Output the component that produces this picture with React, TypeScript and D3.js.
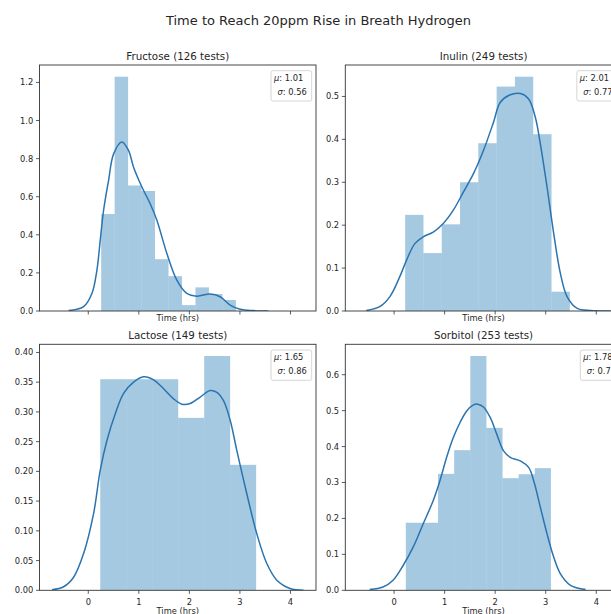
import React from "react";
import * as d3 from "d3";

// ---------- data ----------
const suptitle = "Time to Reach 20ppm Rise in Breath Hydrogen";
const panelNames = ["Fructose", "Inulin", "Lactose", "Sorbitol"];
const testCounts = [126, 249, 149, 253];
const meanLabels = ["1.01", "2.01", "1.65", "1.78"];
const sdLabels = ["0.56", "0.77", "0.86", "0.7"];

const xTicks = [0, 1, 2, 3, 4];
const xDomain: [number, number] = [-0.965, 4.505];

// histogram bins: first edge, width, density heights
const binStarts = [0.255, 0.219, 0.237, 0.232];
const binWidths = [0.2665, 0.362, 0.514, 0.319];
const fructoseHeights = [0.509, 1.23, 0.659, 0.63, 0.272, 0.183, 0.031, 0.124, 0.089, 0.058];
const inulinHeights = [0.224, 0.135, 0.202, 0.3, 0.391, 0.523, 0.546, 0.412, 0.045];
const lactoseHeights = [0.355, 0.355, 0.355, 0.29, 0.394, 0.211];
const sorbitolHeights = [0.188, 0.188, 0.324, 0.39, 0.652, 0.452, 0.312, 0.323, 0.34];

// KDE curves
const fructoseKdeX = [-0.389, -0.092, 0.072, 0.171, 0.237, 0.303, 0.402, 0.501, 0.665, 0.797, 0.896, 1.061, 1.225, 1.357, 1.555, 1.752, 1.95, 2.148, 2.411, 2.609, 2.806, 3.004, 3.267, 3.564];
const fructoseKdeY = [0.002, 0.023, 0.092, 0.215, 0.372, 0.529, 0.686, 0.825, 0.887, 0.842, 0.755, 0.651, 0.563, 0.476, 0.302, 0.162, 0.092, 0.078, 0.089, 0.075, 0.031, 0.009, 0.002, 0.0];

const inulinKdeX = [-0.55, -0.285, -0.086, 0.113, 0.245, 0.411, 0.576, 0.775, 0.974, 1.172, 1.371, 1.57, 1.768, 1.967, 2.099, 2.298, 2.497, 2.662, 2.795, 2.894, 3.026, 3.159, 3.291, 3.424, 3.623, 3.887, 4.285];
const inulinKdeY = [0.001, 0.01, 0.033, 0.08, 0.118, 0.157, 0.173, 0.184, 0.204, 0.235, 0.277, 0.32, 0.374, 0.44, 0.486, 0.504, 0.507, 0.494, 0.451, 0.389, 0.289, 0.18, 0.087, 0.033, 0.006, 0.001, 0.0];

const lactoseKdeX = [-0.718, -0.488, -0.29, -0.092, 0.105, 0.237, 0.369, 0.534, 0.699, 0.896, 1.094, 1.292, 1.489, 1.687, 1.852, 2.016, 2.214, 2.412, 2.544, 2.675, 2.807, 2.939, 3.137, 3.334, 3.532, 3.73, 3.993, 4.257];
const lactoseKdeY = [0.001, 0.006, 0.022, 0.062, 0.129, 0.202, 0.252, 0.297, 0.331, 0.35, 0.359, 0.354, 0.339, 0.322, 0.313, 0.314, 0.325, 0.336, 0.333, 0.319, 0.286, 0.235, 0.162, 0.095, 0.045, 0.017, 0.003, 0.0];

const sorbitolKdeX = [-0.483, -0.219, -0.02, 0.179, 0.377, 0.576, 0.775, 0.907, 1.04, 1.172, 1.305, 1.437, 1.57, 1.656, 1.768, 1.901, 2.033, 2.166, 2.298, 2.497, 2.662, 2.762, 2.894, 3.026, 3.159, 3.291, 3.49, 3.788];
const sorbitolKdeY = [0.002, 0.009, 0.028, 0.069, 0.12, 0.185, 0.25, 0.305, 0.37, 0.425, 0.467, 0.499, 0.516, 0.518, 0.51, 0.481, 0.434, 0.388, 0.37, 0.36, 0.342, 0.305, 0.231, 0.157, 0.092, 0.046, 0.014, 0.002];

const fructoseYTicks = [0, 0.2, 0.4, 0.6, 0.8, 1.0, 1.2];
const inulinYTicks = [0, 0.1, 0.2, 0.3, 0.4, 0.5];
const lactoseYTicks = [0, 0.05, 0.1, 0.15, 0.2, 0.25, 0.3, 0.35, 0.4];
const sorbitolYTicks = [0, 0.1, 0.2, 0.3, 0.4, 0.5, 0.6];
const yTickFormats = [".1f", ".1f", ".2f", ".1f"];

const allHeights = [fructoseHeights, inulinHeights, lactoseHeights, sorbitolHeights];
const allKdeX = [fructoseKdeX, inulinKdeX, lactoseKdeX, sorbitolKdeX];
const allKdeY = [fructoseKdeY, inulinKdeY, lactoseKdeY, sorbitolKdeY];
const allYTicks = [fructoseYTicks, inulinYTicks, lactoseYTicks, sorbitolYTicks];

// ---------- layout ----------
const AX_W = 276.5;
const AX_H = 246;
const AX_LEFT = [39.5, 345.3];
const AX_TOP = [65, 344.3];
const FONT = "DejaVu Sans, Verdana, sans-serif";
const TEXT = "#262626";
const SPINE = "#333333";
const BLUE = "#1f77b4";
const LINE = "#2a74b0";
const TICK_FS = 8.3;
const TITLE_FS = 10.3;

function measure(s: string, font: string): number {
  const ctx = document.createElement("canvas").getContext("2d");
  if (!ctx) return s.length * 5;
  ctx.font = font;
  return ctx.measureText(s).width;
}

function Panel({ i }: { i: number }) {
  const col = i % 2;
  const row = Math.floor(i / 2);
  const left = AX_LEFT[col];
  const top = AX_TOP[row];
  const bottom = top + AX_H;
  const right = left + AX_W;
  const heights = allHeights[i];
  const kdeX = allKdeX[i];
  const kdeY = allKdeY[i];
  const yMax = (d3.max([...heights, ...kdeY]) as number) * 1.05;

  const x = d3.scaleLinear().domain(xDomain).range([left, right]);
  const y = d3.scaleLinear().domain([0, yMax]).range([bottom, top]);
  const fmt = d3.format(yTickFormats[i]);

  const pts: [number, number][] = kdeX.map((v, k) => [v, kdeY[k]]);
  const line = d3
    .line<[number, number]>()
    .x((d) => x(d[0]))
    .y((d) => y(d[1]))
    .curve(d3.curveCatmullRom.alpha(0.5));

  const clipId = `clip${i}`;
  const showXLabels = row === 1;

  // legend
  const muLine = `: ${meanLabels[i]}`;
  const sdLine = `: ${sdLabels[i]}`;
  const fnt = `${TICK_FS}px DejaVu Sans`;
  const ifnt = `italic ${TICK_FS}px DejaVu Sans`;
  const wMu = measure("μ", ifnt) + measure(muLine, fnt);
  const wSd = measure("σ", ifnt) + measure(sdLine, fnt);
  const boxW = Math.max(wMu + 3, wSd + 6.5) + 5;
  const boxH = 30.3;
  const boxX = right - 4.3 - boxW;
  const boxY = top + 5.7;

  return (
    <g>
      <defs>
        <clipPath id={clipId}>
          <rect x={left} y={top} width={AX_W} height={AX_H} />
        </clipPath>
      </defs>
      <g clipPath={`url(#${clipId})`}>
        {heights.map((h, j) => {
          const x0 = binStarts[i] + j * binWidths[i];
          const x1 = x0 + binWidths[i];
          return (
            <rect
              key={j}
              x={x(x0)}
              y={y(h)}
              width={x(x1) - x(x0)}
              height={y(0) - y(h)}
              fill={BLUE}
              fillOpacity={0.4}
            />
          );
        })}
        <path d={line(pts) || ""} fill="none" stroke={LINE} strokeWidth={1.5} />
      </g>
      {/* spines */}
      <rect x={left} y={top} width={AX_W} height={AX_H} fill="none" stroke={SPINE} strokeWidth={0.9} />
      {/* y ticks */}
      {allYTicks[i].map((t) => (
        <g key={t}>
          <line x1={left - 3.5} x2={left} y1={y(t)} y2={y(t)} stroke={SPINE} strokeWidth={0.8} />
          <text
            x={left - 6.2}
            y={y(t)}
            dy="0.36em"
            textAnchor="end"
            fontSize={TICK_FS}
            fill={TEXT}
            fontFamily={FONT}
          >
            {fmt(t)}
          </text>
        </g>
      ))}
      {/* x ticks */}
      {xTicks.map((t) => (
        <g key={t}>
          <line x1={x(t)} x2={x(t)} y1={bottom} y2={bottom + 3.5} stroke={SPINE} strokeWidth={0.8} />
          {showXLabels && (
            <text x={x(t)} y={bottom + 14.5} textAnchor="middle" fontSize={TICK_FS} fill={TEXT} fontFamily={FONT}>
              {t}
            </text>
          )}
        </g>
      ))}
      <text
        x={(left + right) / 2}
        y={bottom + (showXLabels ? 23.5 : 9.5)}
        textAnchor="middle"
        fontSize={TICK_FS}
        fill={TEXT}
        fontFamily={FONT}
      >
        Time (hrs)
      </text>
      <text x={(left + right) / 2} y={top - 5.5} textAnchor="middle" fontSize={TITLE_FS} fill={TEXT} fontFamily={FONT}>
        {`${panelNames[i]} (${testCounts[i]} tests)`}
      </text>
      {/* legend */}
      <rect
        x={boxX}
        y={boxY}
        width={boxW}
        height={boxH}
        rx={2}
        fill="#ffffff"
        fillOpacity={0.8}
        stroke="#cccccc"
        strokeWidth={0.8}
      />
      <text x={boxX + 3} y={boxY + 10.2} fontSize={TICK_FS} fill={TEXT} fontFamily={FONT}>
        <tspan fontStyle="italic">μ</tspan>
        {muLine}
      </text>
      <text x={boxX + 6.5} y={boxY + 24} fontSize={TICK_FS} fill={TEXT} fontFamily={FONT}>
        <tspan fontStyle="italic">σ</tspan>
        {sdLine}
      </text>
    </g>
  );
}

export default function App() {
  return (
    <svg
      width={611}
      height={614}
      style={{ position: "fixed", left: 0, top: 0, background: "#ffffff" }}
    >
      <rect x={0} y={0} width={611} height={614} fill="#ffffff" />
      <text x={318.5} y={24.5} textAnchor="middle" fontSize={13} fill={TEXT} fontFamily={FONT}>
        {suptitle}
      </text>
      {panelNames.map((_, i) => (
        <Panel key={i} i={i} />
      ))}
    </svg>
  );
}
